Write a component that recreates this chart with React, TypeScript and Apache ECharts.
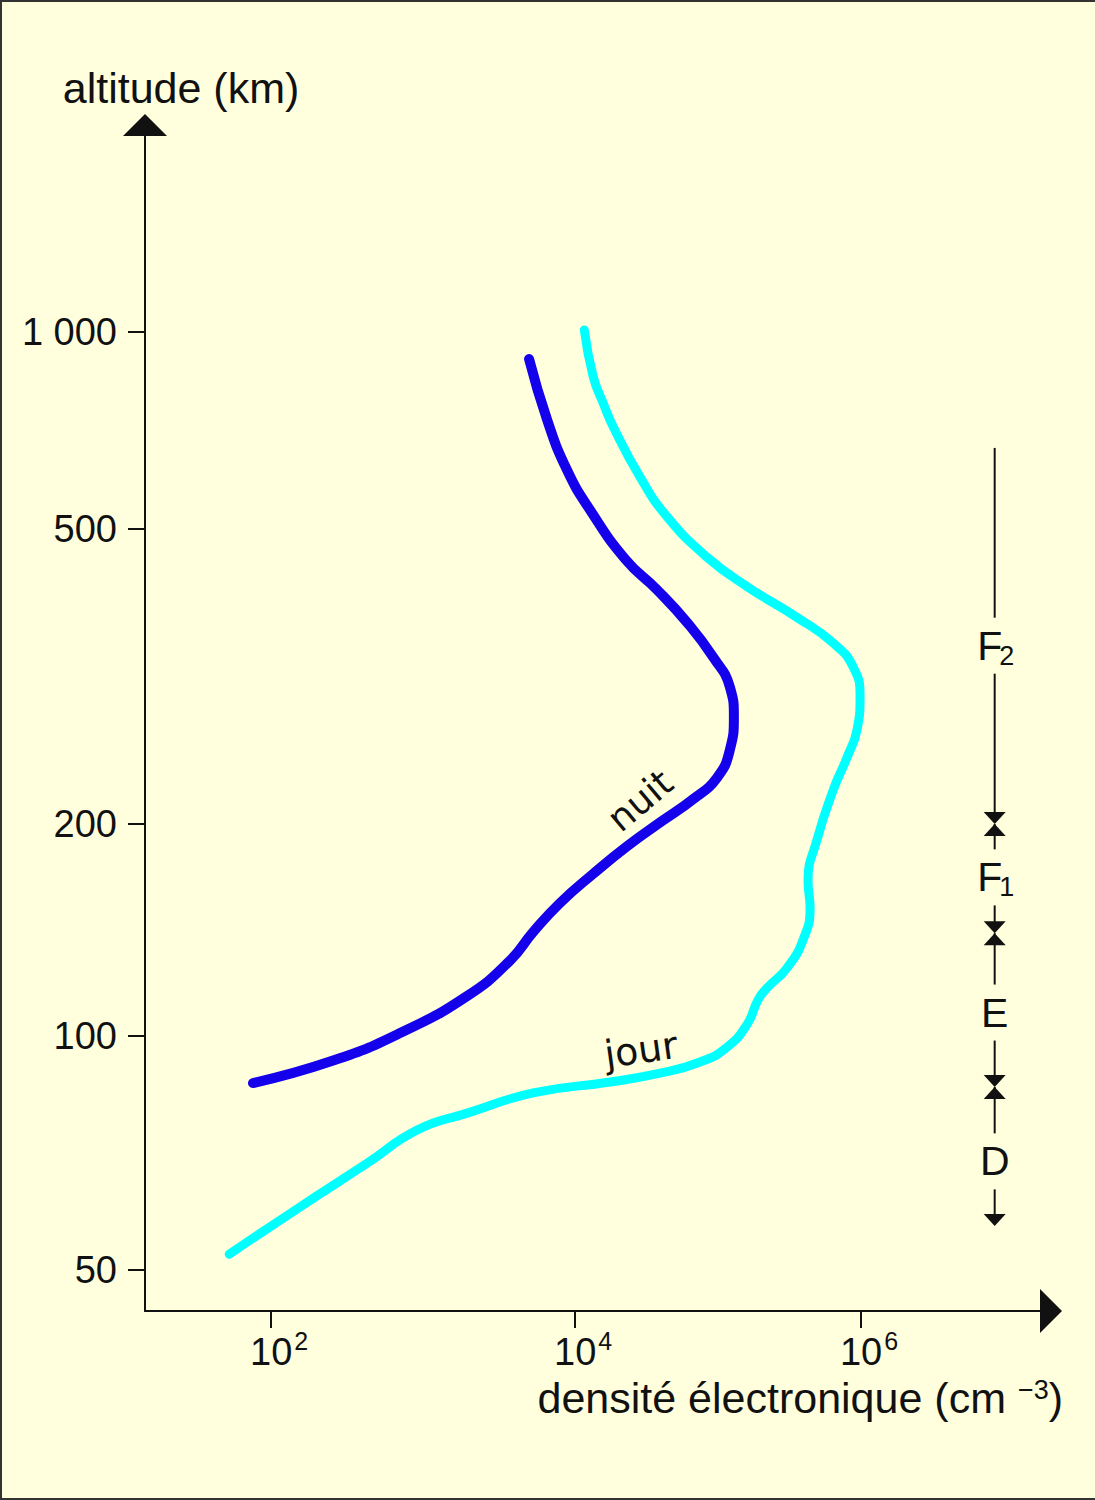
import React, { useEffect, useRef } from 'react';
import * as echarts from 'echarts';

// ---------------- data ----------------
// night profile: electron density (cm^-3) and altitude (km)
const NIGHT_DENSITY = [76, 256, 706, 1950, 3730, 5300, 7960, 13400, 23100, 39300, 66800, 98400, 121000, 129000, 121000, 92300, 60700, 37400, 22500, 12700, 8860, 6550, 4980];
const NIGHT_ALTITUDE = [87, 93, 101, 114, 128, 140.5, 154.5, 170, 186, 201, 216, 231, 252, 279, 306, 336, 374, 414, 455, 535, 615, 734, 909];

// day profile
const DAY_DENSITY = [53, 155, 428, 914, 1950, 5300, 17600, 39300, 74800, 116000, 160000, 190000, 220000, 304000, 393000, 440000, 426000, 492000, 637000, 798000, 937000, 984000, 879000, 637000, 356000, 160000, 83800, 44000, 28500, 18500, 15700, 13400, 11600];
const DAY_ALTITUDE = [52.4, 60.3, 68.6, 75.7, 79.6, 84.5, 87.3, 89.6, 92.6, 96.8, 104, 112.5, 117, 125, 137, 152, 166, 190, 222, 246, 268, 297, 326, 351, 380, 418, 458, 522, 600, 716, 779, 854, 1007];

// curve labels (density, altitude of the label centre)
const NIGHT_LABEL_AT = [28500, 215];
const DAY_LABEL_AT = [28900, 96];

// ticks
const Y_TICKS = [50, 100, 200, 500, 1000];
const Y_TICK_LABELS = ['50', '100', '200', '500', '1 000'];
const X_TICKS = [1e2, 1e4, 1e6];
const X_TICK_EXPONENTS = ['2', '4', '6'];

// ionospheric layers (top to bottom)
const LAYER_NAMES = ['F', 'F', 'E', 'D'];
const LAYER_SUBSCRIPTS = ['2', '1', '', ''];
const LAYER_LABEL_ALTITUDE = [348, 168, 108, 69];
const LAYER_BOUNDS = [665, 200, 140, 86, 57];
const LAYER_COLUMN_DENSITY = 8.6e6;

// ---------------- the drawing's own (hand-drawn, non-uniform) log scales ----------------
const X_SCALE_VALUES = [1e2, 1e4, 1e6];
const X_SCALE_STEPS = [0, 304, 590];
const Y_SCALE_VALUES = [50, 100, 200, 500, 1000];
const Y_SCALE_STEPS = [0, 234, 446, 741, 938];
const X_EXTENT = [14.8, 2.13e7];
const Y_EXTENT = [44.3, 2071];

function warp(vals: number[], steps: number[], v: number): number {
  const l = Math.log10(v);
  const ls = vals.map((x) => Math.log10(x));
  let i = 0;
  while (i < ls.length - 2 && l > ls[i + 1]) i++;
  return steps[i] + ((l - ls[i]) * (steps[i + 1] - steps[i])) / (ls[i + 1] - ls[i]);
}
const wx = (v: number) => warp(X_SCALE_VALUES, X_SCALE_STEPS, v);
const wy = (v: number) => warp(Y_SCALE_VALUES, Y_SCALE_STEPS, v);

function nearestIndex(ticks: number[], f: (v: number) => number, v: number) {
  let best = 0;
  ticks.forEach((t, i) => {
    if (Math.abs(f(t) - v) < Math.abs(f(ticks[best]) - v)) best = i;
  });
  return best;
}

const BG = '#FFFFDD';
const INK = '#111111';
const FONT = '"Liberation Sans", Arial, Helvetica, sans-serif';
const LABEL_FONT = '"DejaVu Sans", Verdana, sans-serif';
const NIGHT_COLOR = '#1400EA';
const DAY_COLOR = '#00FFFF';

function buildOption(): any {
  const night = NIGHT_DENSITY.map((d, i) => [wx(d), wy(NIGHT_ALTITUDE[i])]);
  const day = DAY_DENSITY.map((d, i) => [wx(d), wy(DAY_ALTITUDE[i])]);

  const renderLayers = (params: any, api: any) => {
    const cx = api.coord([wx(LAYER_COLUMN_DENSITY), wy(LAYER_BOUNDS[0])])[0];
    const yOf = (alt: number) => api.coord([wx(LAYER_COLUMN_DENSITY), wy(alt)])[1];
    const gap = 28;
    const ah = 12;
    const aw = 11;
    const children: any[] = [];
    const lineStyle = { stroke: INK, lineWidth: 2 };
    for (let i = 0; i < LAYER_NAMES.length; i++) {
      const yTop = yOf(LAYER_BOUNDS[i]);
      const yBot = yOf(LAYER_BOUNDS[i + 1]);
      const yl = yOf(LAYER_LABEL_ALTITUDE[i]);
      children.push({ type: 'line', shape: { x1: cx, y1: yTop, x2: cx, y2: yl - gap }, style: lineStyle });
      children.push({ type: 'line', shape: { x1: cx, y1: yl + gap, x2: cx, y2: yBot - ah + 1 }, style: lineStyle });
      children.push({
        type: 'polygon',
        shape: { points: [[cx - aw, yBot - ah], [cx + aw, yBot - ah], [cx, yBot]] },
        style: { fill: INK },
      });
      if (i > 0) {
        children.push({
          type: 'polygon',
          shape: { points: [[cx - aw, yTop + ah], [cx + aw, yTop + ah], [cx, yTop]] },
          style: { fill: INK },
        });
      }
      const hasSub = LAYER_SUBSCRIPTS[i] !== '';
      children.push({
        type: 'text',
        style: {
          text: LAYER_NAMES[i],
          x: hasSub ? cx - 5 : cx,
          y: yl,
          align: 'center',
          verticalAlign: 'middle',
          fontSize: 41,
          fontFamily: FONT,
          fill: INK,
        },
      });
      if (hasSub) {
        children.push({
          type: 'text',
          style: {
            text: LAYER_SUBSCRIPTS[i],
            x: cx + 12,
            y: yl + 10,
            align: 'center',
            verticalAlign: 'middle',
            fontSize: 27,
            fontFamily: FONT,
            fill: INK,
          },
        });
      }
    }
    return { type: 'group', children };
  };

  return {
    animation: false,
    backgroundColor: BG,
    graphic: [
      {
        type: 'polyline',
        silent: true,
        shape: { points: [[1095, 1], [1, 1], [1, 1499], [1095, 1499]] },
        style: { stroke: '#333', lineWidth: 2, fill: null },
      },
    ],
    grid: { left: 145, right: 44, top: 125, bottom: 189, containLabel: false },
    xAxis: {
      type: 'value',
      min: wx(X_EXTENT[0]),
      max: wx(X_EXTENT[1]),
      splitLine: { show: false },
      axisLine: { show: true, onZero: false, symbol: ['none', 'triangle'], symbolSize: [44, 22], lineStyle: { color: INK, width: 2 } },
      axisTick: { show: true, length: 17, inside: false, customValues: X_TICKS.map(wx), lineStyle: { color: INK, width: 2 } },
      axisLabel: {
        show: true,
        margin: 17,
        customValues: X_TICKS.map(wx),
        formatter: (v: number) => '{p| }{b|10}{s|' + X_TICK_EXPONENTS[nearestIndex(X_TICKS, wx, v)] + '}',
        rich: {
          p: { width: 16, fontSize: 38, fontFamily: FONT },
          b: { fontSize: 38, lineHeight: 38, fontFamily: FONT, color: INK, verticalAlign: 'bottom' },
          s: { fontSize: 25, lineHeight: 43, fontFamily: FONT, color: INK, verticalAlign: 'top', padding: [0, 0, 0, 2] },
        },
      },
      name: '{t|densité électronique (cm }{s|−3}{t|)}',
      nameLocation: 'end',
      nameGap: 12,
      nameMoveOverlap: false,
      nameTextStyle: {
        align: 'right',
        verticalAlign: 'top',
        padding: [65, 0, 0, 0],
        rich: {
          t: { fontSize: 43, lineHeight: 43, fontFamily: FONT, color: INK, verticalAlign: 'bottom' },
          s: { fontSize: 27, lineHeight: 18, fontFamily: FONT, color: INK, verticalAlign: 'top' },
        },
      },
    },
    yAxis: {
      type: 'value',
      min: wy(Y_EXTENT[0]),
      max: wy(Y_EXTENT[1]),
      splitLine: { show: false },
      axisLine: { show: true, onZero: false, symbol: ['none', 'triangle'], symbolSize: [44, 22], lineStyle: { color: INK, width: 2 } },
      axisTick: { show: true, length: 17, inside: false, customValues: Y_TICKS.map(wy), lineStyle: { color: INK, width: 2 } },
      axisLabel: {
        show: true,
        margin: 28,
        customValues: Y_TICKS.map(wy),
        formatter: (v: number) => Y_TICK_LABELS[nearestIndex(Y_TICKS, wy, v)],
        fontSize: 38,
        fontFamily: FONT,
        color: INK,
      },
      name: 'altitude (km)',
      nameLocation: 'end',
      nameGap: 16,
      nameMoveOverlap: false,
      nameTextStyle: { fontSize: 43, fontFamily: FONT, color: INK, align: 'center', padding: [0, 0, 0, 72] },
    },
    series: [
      {
        type: 'line',
        name: 'nuit',
        data: night,
        smooth: 0.5,
        showSymbol: false,
        symbol: 'none',
        lineStyle: { color: NIGHT_COLOR, width: 10, cap: 'round', join: 'round' },
        itemStyle: { color: NIGHT_COLOR },
        markPoint: {
          silent: true,
          symbol: 'circle',
          symbolSize: 0,
          itemStyle: { color: 'transparent' },
          label: { show: true, position: 'inside', formatter: 'nuit', rotate: 40, fontSize: 37, fontFamily: LABEL_FONT, color: INK },
          data: [{ coord: [wx(NIGHT_LABEL_AT[0]), wy(NIGHT_LABEL_AT[1])] }],
        },
      },
      {
        type: 'line',
        name: 'jour',
        data: day,
        smooth: 0.5,
        showSymbol: false,
        symbol: 'none',
        lineStyle: { color: DAY_COLOR, width: 9, cap: 'round', join: 'round' },
        itemStyle: { color: DAY_COLOR },
        markPoint: {
          silent: true,
          symbol: 'circle',
          symbolSize: 0,
          itemStyle: { color: 'transparent' },
          label: { show: true, position: 'inside', formatter: 'jour', rotate: 8, fontSize: 38, fontFamily: LABEL_FONT, color: INK },
          data: [{ coord: [wx(DAY_LABEL_AT[0]), wy(DAY_LABEL_AT[1])] }],
        },
      },
      {
        type: 'custom',
        name: 'couches',
        silent: true,
        clip: false,
        data: [[wx(LAYER_COLUMN_DENSITY), wy(LAYER_BOUNDS[0])]],
        renderItem: renderLayers,
      },
    ],
  };
}

export default function App() {
  const ref = useRef<HTMLDivElement>(null);
  useEffect(() => {
    if (!ref.current) return;
    const chart = echarts.init(ref.current, null, { renderer: 'svg' });
    chart.setOption(buildOption());
    return () => chart.dispose();
  }, []);
  return (
    <div
      ref={ref}
      style={{ position: 'absolute', left: 0, top: 0, width: 1095, height: 1500, background: BG }}
    />
  );
}
